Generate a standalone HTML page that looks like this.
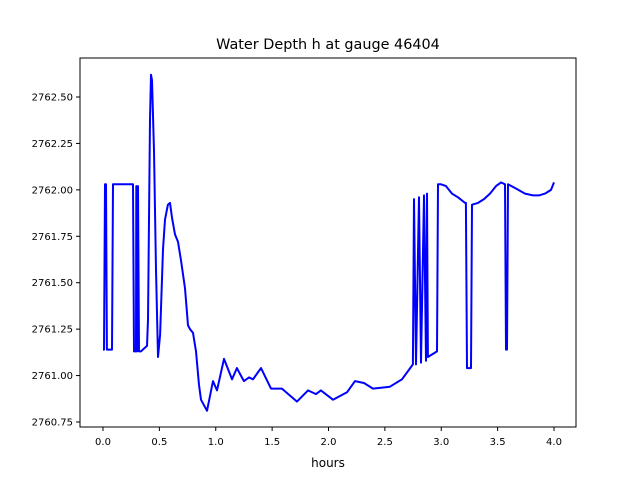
<!DOCTYPE html>
<html><head><meta charset="utf-8"><style>
body{margin:0;background:#fff}
svg{display:block;font-family:"DejaVu Sans","Liberation Sans",sans-serif}
</style></head><body>
<svg id="chart" width="640" height="480"></svg>
<script>
const hours=[0,0.009,0.018,0.027,0.035,0.080,0.089,0.266,0.275,0.293,0.295,0.302,0.310,0.319,0.337,0.372,0.390,0.399,0.417,0.426,0.435,0.452,0.470,0.488,0.506,0.532,0.550,0.576,0.594,0.612,0.639,0.665,0.692,0.727,0.754,0.772,0.798,0.825,0.851,0.869,0.922,0.976,1.011,1.073,1.144,1.188,1.250,1.295,1.330,1.401,1.490,1.587,1.721,1.818,1.889,1.933,2.040,2.164,2.235,2.315,2.395,2.545,2.652,2.749,2.758,2.776,2.803,2.820,2.847,2.865,2.874,2.882,2.962,2.971,2.998,3.042,3.095,3.149,3.211,3.219,3.228,3.264,3.273,3.326,3.379,3.432,3.486,3.530,3.565,3.574,3.583,3.592,3.654,3.743,3.814,3.867,3.920,3.973,4.000];
const depth=[2761.14,2761.14,2762.03,2762.03,2761.14,2761.14,2762.03,2762.03,2761.13,2761.13,2762.02,2761.13,2762.02,2761.13,2761.13,2761.15,2761.16,2761.30,2762.38,2762.62,2762.59,2762.21,2761.57,2761.10,2761.22,2761.68,2761.84,2761.92,2761.93,2761.85,2761.76,2761.72,2761.62,2761.47,2761.27,2761.25,2761.23,2761.13,2760.95,2760.87,2760.81,2760.97,2760.92,2761.09,2760.98,2761.04,2760.97,2760.99,2760.98,2761.04,2760.93,2760.93,2760.86,2760.92,2760.90,2760.92,2760.87,2760.91,2760.97,2760.96,2760.93,2760.94,2760.98,2761.06,2761.95,2761.06,2761.96,2761.07,2761.97,2761.08,2761.98,2761.10,2761.13,2762.03,2762.03,2762.02,2761.98,2761.96,2761.93,2761.93,2761.04,2761.04,2761.92,2761.93,2761.95,2761.98,2762.02,2762.04,2762.03,2761.14,2761.14,2762.03,2762.01,2761.98,2761.97,2761.97,2761.98,2762.00,2762.04];
const xTicks=[0,0.5,1,1.5,2,2.5,3,3.5,4];
const xTickLabels=["0.0","0.5","1.0","1.5","2.0","2.5","3.0","3.5","4.0"];
const yTicks=[2760.75,2761,2761.25,2761.5,2761.75,2762,2762.25,2762.5];
const yTickLabels=["2760.75","2761.00","2761.25","2761.50","2761.75","2762.00","2762.25","2762.50"];

const L=80,R=576,T=58,B=427;
const xs=t=>103+(t-0)*112.75;
const ys=h=>97+(2762.5-h)*185.71;
const NS="http://www.w3.org/2000/svg";
const svg=document.getElementById('chart');
function mk(tag,attrs){const e=document.createElementNS(NS,tag);for(const k in attrs)e.setAttribute(k,attrs[k]);svg.appendChild(e);return e;}

const title=mk('text',{x:328,y:49,'text-anchor':'middle','font-size':14.4,fill:'#000'});
title.textContent='Water Depth h at gauge 46404';



const line=mk('polyline',{fill:'none',stroke:'#0000ff','stroke-width':2,'stroke-linejoin':'round',points:hours.map((t,i)=>xs(t).toFixed(1)+','+ys(depth[i]).toFixed(1)).join(' ')});



const frame=mk('rect',{x:L,y:T,width:R-L,height:B-T,fill:'none',stroke:'#000','stroke-width':1});



xTicks.forEach((v,i)=>{
  const x=xs(v);
  const tk=mk('line',{x1:x,y1:B,x2:x,y2:B+4,stroke:'#000'});
  
  
  const tl=mk('text',{x:x,y:B+18,'text-anchor':'middle','font-size':10,fill:'#000'});
  tl.textContent=xTickLabels[i];
  
  
});
yTicks.forEach((v,i)=>{
  const y=ys(v);
  const tk=mk('line',{x1:L-4,y1:y,x2:L,y2:y,stroke:'#000'});
  
  
  const tl=mk('text',{x:L-7,y:y+3.5,'text-anchor':'end','font-size':10,fill:'#000'});
  tl.textContent=yTickLabels[i];
  
  
});
const xl=mk('text',{x:328,y:467,'text-anchor':'middle','font-size':12,fill:'#000'});
xl.textContent='hours';


</script>
</body></html>
